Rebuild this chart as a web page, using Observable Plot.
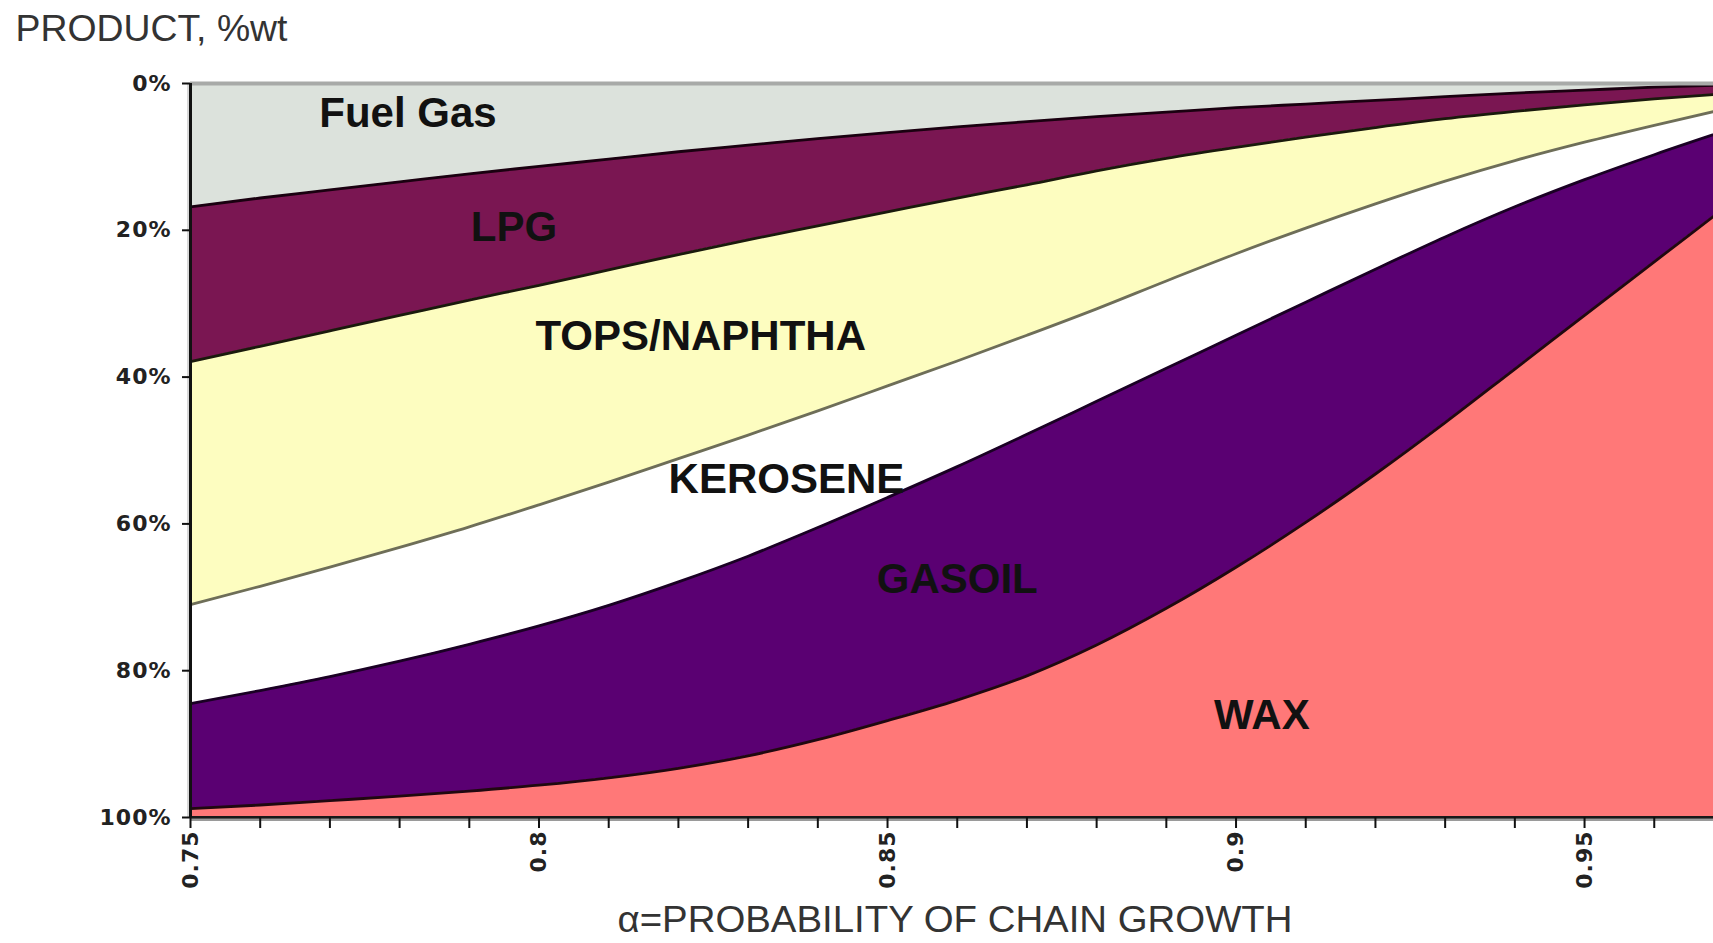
<!DOCTYPE html>
<html><head><meta charset="utf-8">
<script src="https://cdn.jsdelivr.net/npm/d3@7"></script>
<script src="https://cdn.jsdelivr.net/npm/@observablehq/plot@0.6"></script>
<style>
html,body{margin:0;padding:0;background:#fff;}
#chart{width:1713px;height:943px;}
</style></head><body><div id="chart"></div>
<script>
// α = probability of chain growth
const alpha = [0.75,0.76,0.77,0.78,0.79,0.80,0.81,0.82,0.83,0.84,0.85,0.86,0.87,0.88,0.89,0.90,0.91,0.92,0.93,0.94,0.95,0.96,0.97];
const products = ["Fuel Gas","LPG","TOPS/NAPHTHA","KEROSENE","GASOIL","WAX"];
// product, %wt
const fuelGas  = [16.8,15.6,14.5,13.4,12.3,11.3,10.3,9.3,8.4,7.5,6.7,5.9,5.2,4.5,3.9,3.3,2.8,2.3,1.8,1.3,0.9,0.5,0.2];
const lpg      = [21.1,20.2,19.2,18.2,17.2,16.2,15.1,14.0,12.9,11.9,10.8,9.7,8.6,7.4,6.3,5.4,4.5,3.7,3.0,2.5,2.0,1.6,1.2];
const tops     = [33.1,32.7,32.2,31.6,30.9,29.9,28.9,27.8,26.6,25.2,23.7,22.2,20.5,18.8,16.7,14.5,12.4,10.4,8.5,6.7,5.1,3.6,2.1];
const kerosene = [13.5,14.2,14.9,15.5,16.0,16.5,16.8,16.8,16.5,15.9,15.2,14.4,13.5,12.6,11.9,11.1,10.1,8.9,7.6,6.3,5.1,4.0,3.0];
const gasoil   = [14.3,15.6,16.9,18.4,20.0,21.7,23.5,25.4,27.2,28.9,30.4,31.8,32.9,33.2,32.7,31.6,30.0,27.9,25.3,22.1,18.5,14.6,10.5];
const wax      = [1.2,1.7,2.3,2.9,3.6,4.4,5.4,6.7,8.4,10.6,13.2,16.0,19.3,23.5,28.5,34.1,40.2,46.8,53.8,61.1,68.4,75.7,83.0];

const productColors  = ["#dce2dc","#7a1652","#fdfdc0","#ffffff","#5a0072","#ff7878"];
const boundaryColors = ["#1a0010","#1a1a0c","#6e6e58","#1a0024","#200810","#1a1a1a"];

const yTickValues = [0,20,40,60,80,100];
const yTickLabels = ["0%","20%","40%","60%","80%","100%"];
const xMinorTicks = [0.75,0.76,0.77,0.78,0.79,0.80,0.81,0.82,0.83,0.84,0.85,0.86,0.87,0.88,0.89,0.90,0.91,0.92,0.93,0.94,0.95,0.96];
const xTickValues = [0.75,0.8,0.85,0.9,0.95];
const xTickLabels = ["0.75","0.8","0.85","0.9","0.95"];

const labelText  = ["Fuel Gas","LPG","TOPS/NAPHTHA","KEROSENE","GASOIL","WAX"];
const labelAlpha = [0.7812,0.7964,0.8232,0.8355,0.8600,0.9037];
const labelPct   = [4.1,19.6,34.5,54.0,67.6,86.1];

const yTitle = "PRODUCT, %wt";
const xTitle = "α=PROBABILITY OF CHAIN GROWTH";

const series = [fuelGas, lpg, tops, kerosene, gasoil, wax];
const table = [];
products.forEach((p, i) => alpha.forEach((a, j) => table.push({
  alpha: a, product: p, value: series[i][j], color: productColors[i], line: boundaryColors[i]
})));

const chart = Plot.plot({
  width: 1713, height: 943,
  marginLeft: 190, marginRight: 0, marginTop: 83, marginBottom: 126,
  x: {domain: [0.75, 0.9685]},
  y: {domain: [0, 100], reverse: true},
  color: {type: "identity"},
  style: {background: "#fff", fontFamily: "DejaVu Sans"},
  marks: [
    Plot.areaY(table, {x: "alpha", y: "value", z: "product", fill: "color", curve: "monotone-x", clip: true}),
    Plot.lineY(table, Plot.stackY2({x: "alpha", y: "value", z: "product", stroke: "line", strokeWidth: 2.8, curve: "monotone-x", clip: true})),
    Plot.ruleY([0], {stroke: "#a8aaa8", strokeWidth: 4}),
    Plot.ruleY([100], {stroke: "#9a9a9a", strokeWidth: 2, dy: 2.5}),
    Plot.ruleY([100], {stroke: "#1a1a1a", strokeWidth: 2.5}),
    Plot.ruleX([0.75], {stroke: "#d8d8d8", strokeWidth: 2, dx: -2.5}),
    Plot.ruleX([0.75], {stroke: "#111", strokeWidth: 3}),
    Plot.axisY({ticks: yTickValues, tickFormat: d => yTickLabels[yTickValues.indexOf(d)], tickSize: 8, tickPadding: 11,
      fontSize: 22, fontWeight: "bold", label: null, stroke: "#111", strokeWidth: 2, fill: "#222"}),
    Plot.axisX({ticks: xMinorTicks, tickFormat: () => "", tickSize: 11, label: null, stroke: "#111", strokeWidth: 2}),
    Plot.axisX({ticks: xTickValues, tickFormat: d => xTickLabels[xTickValues.indexOf(d)], tickSize: 0, tickPadding: 13,
      tickRotate: -90, fontSize: 22, fontWeight: "bold", label: null, fill: "#222"}),
    Plot.text(labelText, {x: (d, i) => labelAlpha[i], y: (d, i) => labelPct[i], text: d => d,
      fontFamily: "Liberation Sans", fontWeight: "bold", fontSize: 42, fill: "#111", lineAnchor: "middle"}),
    Plot.text([yTitle], {frameAnchor: "top-left", dx: -175, dy: -54, textAnchor: "start", lineAnchor: "middle",
      fontFamily: "Liberation Sans", fontSize: 37, fill: "#333", className: "ytitle"}),
    Plot.text([xTitle], {frameAnchor: "bottom", dx: 3, dy: 103, textAnchor: "middle", lineAnchor: "middle",
      fontFamily: "Liberation Sans", fontSize: 37, fill: "#333", className: "xtitle"})
  ]
});

const svg = d3.select(chart);
svg.selectAll("g[aria-label='y-axis tick label'] text, g[aria-label='x-axis tick label'] text").style("letter-spacing", "1px");
svg.selectAll(".xtitle text").attr("textLength", 675).attr("lengthAdjust", "spacingAndGlyphs");
svg.selectAll(".ytitle text").attr("textLength", 272).attr("lengthAdjust", "spacingAndGlyphs");
document.getElementById("chart").appendChild(chart);
</script>
</body></html>
